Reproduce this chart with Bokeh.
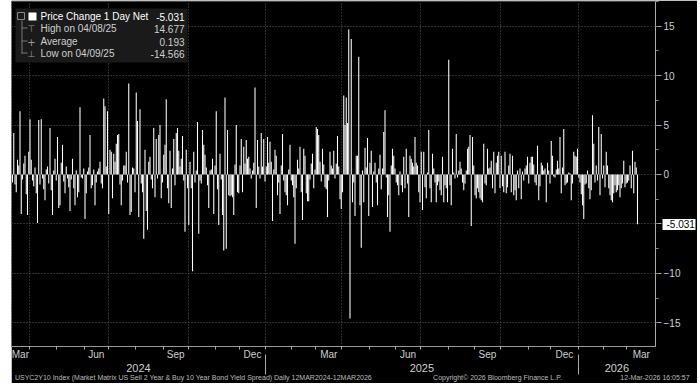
import pandas as pd
from pandas.tseries.holiday import USFederalHolidayCalendar
from pandas.tseries.offsets import CustomBusinessDay
from bokeh.plotting import figure
from bokeh.models import (ColumnDataSource, FixedTicker, SingleIntervalTicker, Range1d,
                          Label, BoxAnnotation, Spacer, LinearAxis)
from bokeh.layouts import row
from bokeh.embed import file_html
from bokeh.resources import INLINE

# ---------------- data ----------------
START_DATE = "2024-03-12"
END_DATE = "2026-03-12"
SERIES_NAME = "Price Change 1 Day Net"
LAST_VALUE = "-5.031"
HIGH_LABEL, HIGH_VALUE = "High on 04/08/25", "14.677"
AVG_LABEL, AVG_VALUE = "Average", "0.193"
LOW_LABEL, LOW_VALUE = "Low on 04/09/25", "-14.566"
Y_TICKS = [-15, -10, -5, 0, 5, 10, 15]
MONTH_LABELS = {3: "Mar", 6: "Jun", 9: "Sep", 12: "Dec"}
FOOTER_TEXTS = [
    "USYC2Y10 Index (Market Matrix US Sell 2 Year & Buy 10 Year Bond Yield Spread) "
    "Daily 12MAR2024-12MAR2026",
    "Copyright\u00a9 2026 Bloomberg Finance L.P.",
    "12-Mar-2026 16:05:57",
]

chg_2024a = [-0.8, 4.2, -1.0, -1.8, 1.5, 0.9, 6.4, -4.0, -0.5, 1.1,
             1.9, -2.0, -4.1, 2.3, 5.6, 1.5, -0.6, -1.2, 0.7, -1.9,
             -4.9, 5.5, -1.0, 5.6, -0.4, -1.5, -2.6, 0.5, 0.8, -0.9,
             4.7, -1.6, -4.1, 0.4, 1.6, -0.6, 3.8, -3.4, -3.1, 1.2,
             3.0, -0.7, -1.9, 0.8, -0.4, -1.3, -3.7, -0.5, 1.6, -1.4,
             -3.1, 0.4, -2.3, -1.8, 6.8, -0.3, -0.4, 0.6, -4.5, -1.9,
             0.3, 0.7, 4.0, -1.4, -1.1, 0.5, -3.1, -0.8, 0.3, 0.6,
             1.3, -0.9, -1.4, 7.7, 6.9, 0.8, 6.4, -4.0, 2.5, 2.3,
             -2.4, 2.1, 1.3]
chg_2024b = [3.1, 4.0, 4.1, -1.0, -3.1, -0.6, 0.9, 0.9, 2.3, -0.8,
             9.2, -4.1, -3.8, 0.7, 0.6, -1.8, 8.3, 5.4, -4.3, 6.6,
             -0.9, -1.8, -6.5, 2.5, -3.7, -5.6, 1.3, 1.8, -0.5, -1.4,
             4.7, -2.3, 3.6, -0.4, 4.0, 5.0, -2.4, -0.8, 2.0, 3.0,
             7.6, -1.4, -2.9, 2.4, -3.4, 0.6, 3.6, -1.1, 4.2, 4.7,
             2.4, 0.8, 1.6, 3.9, -0.6, -5.8, 2.5, -1.4, -5.1, 1.3,
             -1.4, -9.8, 2.3, -0.8, 0.4, 5.3, -6.0, -0.6, -0.9, 4.5,
             3.0, 2.0, 0.7, -1.1, -3.4, 0.4, 0.5, 1.6, -4.0, 0.9,
             6.4, -1.5, -5.1, 2.1, -0.5]
chg_2024c = [-4.1, -7.7, 7.8, -7.5, 4.5, -2.1, -2.2, -2.1, -2.3, -4.1,
             1.0, 5.0, -1.8, -1.9, 0.9, 3.6, -1.8, 2.8, 1.1, 3.5,
             1.6, 1.8, 0.6, -0.4, 0.4, 1.2, 8.8, -3.4, 3.5, 0.8,
             -0.4, 4.2, 0.8, 3.6, -0.7, 0.8, 3.8, 1.2, 3.3, 1.3,
             -4.7, 0.5, 2.5, 1.9, -2.1, -0.8, -4.0, 0.9, 4.1, -0.6,
             -1.8, -2.1, -3.1, 0.5, 3.0, -0.6, -1.1, -2.3, -7.0, -1.4,
             1.5, 0.6, 2.8, -1.8, -4.6, 2.6, 1.9, -1.9, -2.7, -2.7,
             -0.5, 1.1, 2.1, -1.4, 0.5, 4.8, 4.6, 4.0, 1.3, -0.7,
             2.6, 1.0]
chg_2025a = [-1.3, -1.5, -4.3, -0.6, 2.3, 0.9, 0.6, 2.4, -0.4, 1.1,
             3.9, 0.8, -2.5, -3.5, -1.8, 8.0, 5.0, 7.8, 5.2, 14.677,
             -14.566, 13.7, -2.8, -0.8, -4.2, 1.9, 1.9, 11.9, -3.1, -7.4,
             0.4, -2.8, 2.7, 0.7, 3.7, -4.2, 1.2, 2.4, -3.3, 0.3,
             1.2, -0.8, -3.1, 0.6, 2.0, -1.5, 0.6, 4.3, 6.5, -0.3,
             -4.3, -2.1, -5.8, 0.9, 2.6, 1.9, 0.6, -0.8, -1.1, -2.1,
             0.3, -1.1, -1.8, 1.8, -1.4, 2.6, -0.9, -4.3, 1.9, 1.6,
             1.2, 0.8, 3.8, 1.2, 0.9, -1.8, -2.8, 2.3, -3.6, 2.3,
             -1.3, -2.4, 0.2]
chg_2025b = [4.5, -1.4, -2.8, 2.1, 0.6, -0.8, -2.8, -1.1, -0.7, -1.6,
             -2.1, 1.8, -2.8, -1.1, -1.4, -2.8, 11.6, -1.1, -3.1, 2.6,
             0.2, -0.4, 4.1, -0.3, 0.4, 1.3, 0.6, -0.8, -1.6, -0.9,
             0.4, 2.6, 2.8, 4.0, -5.2, 3.8, 0.9, -2.1, -2.4, -1.4,
             -1.8, -2.4, -2.6, -2.8, 3.1, -0.9, -1.1, 2.6, 0.6, 0.7,
             1.4, -1.4, 2.3, -1.9, 1.2, 1.9, 2.3, -1.4, 1.9, -1.2,
             -1.8, 2.3, -1.9, -1.3, 0.9, 2.1, -1.8, 1.9, -2.1, -1.6,
             -2.6, 0.4, -1.4, 0.6, -2.5, 0.3, -0.6, 0.6, 0.9, 1.8,
             -0.9, 1.2, 1.8]
chg_2025c = [1.8, 1.0, -0.8, -1.1, 2.9, -2.6, -1.2, 1.2, 0.9, 0.4,
             0.6, -2.8, 1.2, 0.4, -0.9, 3.4, 1.9, -0.2, -0.3, 0.5,
             1.4, 0.6, 3.8, -1.9, 0.7, 4.6, -1.1, -0.9, -0.8, 0.2,
             0.1, -2.6, -0.9, 2.3, 1.9, 1.8, 2.6, -0.3, -0.8, -2.0,
             -3.1, -4.5, -1.0, -0.9, 0.4, -1.4, -2.5, -1.6, 6.0, 3.1,
             -0.8, 0.9, -0.6, 4.8, -2.1, 4.1, -0.4, 0.9, -1.3, 2.3,
             0.9, -1.4, -2.1, -2.6, -2.8, -1.9, -1.1, -1.8, -1.6, -1.1,
             -2.3, -1.4, -0.9, 1.4, -1.3, -0.9, -0.8, -0.6, 0.9, -1.4,
             2.4, -1.9, 1.3, 0.7, -5.031]

daily_change = chg_2024a + chg_2024b + chg_2024c + chg_2025a + chg_2025b + chg_2025c

dates = pd.date_range(START_DATE, END_DATE,
                      freq=CustomBusinessDay(calendar=USFederalHolidayCalendar()))
n = min(len(dates), len(daily_change))
dates = dates[-n:]
vals = daily_change[-n:]
idx = list(range(n))

# ---------------- geometry ----------------
PX_PER_BAR = 1.25
FRAME_W, FRAME_H = 644, 345
X_START = -0.8
X_END = X_START + FRAME_W / PX_PER_BAR
Y_TOP, Y_BOT = 17.5, -17.4


def page_to_x(px):
    return X_START + (px - 11) / PX_PER_BAR


month_start = [0] + [i for i in range(1, n) if dates[i].month != dates[i - 1].month]
bounds = [i - 0.5 for i in month_start[1:]]
edges = [X_START] + bounds + [X_END]
centers, overrides = [], {}
for k, i in enumerate(month_start):
    m = dates[i].month
    if m in MONTH_LABELS:
        c = round((edges[k] + edges[k + 1]) / 2, 1)
        centers.append(c)
        overrides[c] = MONTH_LABELS[m]
quarter_bounds = [i - 0.5 for i in month_start[1:] if dates[i].month in (1, 4, 7, 10)]
year_bounds = [i - 0.5 for i in month_start[1:] if dates[i].month == 1]
year_edges = [X_START] + year_bounds + [X_END]
year_centers = [round((year_edges[k] + year_edges[k + 1]) / 2, 1)
                for k in range(len(year_edges) - 1)]
year_overrides = {c: str(dates[0].year + k) for k, c in enumerate(year_centers)}

FONT = "Liberation Sans"
GREY_TXT = "#cfcfcf"

p = figure(frame_width=FRAME_W, frame_height=FRAME_H, x_range=Range1d(X_START, X_END),
           y_range=Range1d(Y_BOT, Y_TOP), output_backend="svg", toolbar_location=None,
           y_axis_location="right", background_fill_color="black",
           border_fill_color="black", min_border_left=0, min_border_right=39,
           min_border_top=1, min_border_bottom=37)
p.outline_line_color = "#555555"
p.outline_line_dash = "1 2"

src = ColumnDataSource(dict(x=idx, v=vals))
p.vbar(x="x", top="v", bottom=0, width=0.85, source=src,
       fill_color="white", line_color=None)

# month axis
xa = p.xaxis[0]
xa.ticker = FixedTicker(ticks=centers, minor_ticks=bounds)
xa.major_label_overrides = overrides
xa.major_tick_out = 0
xa.major_tick_in = 0
xa.major_tick_line_color = None
xa.minor_tick_out = 3
xa.minor_tick_in = 0
xa.minor_tick_line_color = "#aaaaaa"
xa.axis_line_color = "#999999"
xa.major_label_text_color = GREY_TXT
xa.major_label_text_font = FONT
xa.major_label_text_font_size = "10px"
xa.major_label_standoff = -1

# year axis (labels at year centres, separators as long minor ticks)
yr = LinearAxis(ticker=FixedTicker(ticks=year_centers, minor_ticks=year_bounds),
                major_label_overrides=year_overrides, axis_line_color=None,
                major_tick_line_color=None, major_tick_in=0, major_tick_out=0,
                minor_tick_in=8, minor_tick_out=12, minor_tick_line_color="#aaaaaa",
                major_label_standoff=-11, major_label_text_color=GREY_TXT,
                major_label_text_font=FONT, major_label_text_font_size="11px")
p.add_layout(yr, "below")

# source / copyright / timestamp line
foot_pos = [round(page_to_x(px), 2) for px in (193, 497, 654.5)]
ft = LinearAxis(ticker=FixedTicker(ticks=foot_pos, minor_ticks=[]),
                major_label_overrides=dict(zip(foot_pos, FOOTER_TEXTS)),
                axis_line_color=None, major_tick_line_color=None, major_tick_in=0,
                major_tick_out=0, minor_tick_line_color=None, major_label_standoff=-1,
                major_label_text_color="#bbbbbb", major_label_text_font=FONT,
                major_label_text_font_size="7px")
p.add_layout(ft, "below")

# value axis
ya = p.yaxis[0]
ya.ticker = SingleIntervalTicker(interval=5, num_minor_ticks=2)
ya.major_tick_out = 6
ya.major_tick_in = 0
ya.minor_tick_out = 3
ya.minor_tick_in = 0
ya.major_tick_line_color = "#aaaaaa"
ya.minor_tick_line_color = "#888888"
ya.axis_line_color = "#aaaaaa"
ya.major_label_text_color = GREY_TXT
ya.major_label_text_font = FONT
ya.major_label_text_font_size = "10px"
ya.major_label_standoff = 2

# last-value tag: an extra right axis with one tick drawn as a white box
last = float(LAST_VALUE)
tag = LinearAxis(ticker=FixedTicker(ticks=[last], minor_ticks=[]),
                 major_label_overrides={last: LAST_VALUE},
                 axis_line_color=None, major_tick_in=21, major_tick_out=12,
                 major_tick_line_color="white", major_tick_line_width=11,
                 major_tick_line_cap="butt", minor_tick_line_color=None,
                 major_label_standoff=-29, major_label_text_color="black",
                 major_label_text_font=FONT, major_label_text_font_size="10px")
p.add_layout(tag, "right")

p.xgrid.ticker = FixedTicker(ticks=quarter_bounds)
p.ygrid.ticker = FixedTicker(ticks=Y_TICKS)
for g in (p.xgrid[0], p.ygrid[0]):
    g.grid_line_color = "#5a5a5a"
    g.grid_line_dash = "1 2"
    g.grid_line_width = 1


def lab(text, x, y, size="10px", color=GREY_TXT, align="left", font=FONT):
    p.add_layout(Label(x=x, y=y, x_units="screen", y_units="screen", text=text,
                       text_font=font, text_font_size=size, text_color=color,
                       text_align=align, text_baseline="middle"))


def box(l, r, b, t, color, line=None):
    p.add_layout(BoxAnnotation(left=l, right=r, bottom=b, top=t, left_units="screen",
                               right_units="screen", bottom_units="screen",
                               top_units="screen", fill_color=color,
                               fill_alpha=1 if color else 0, line_color=line,
                               line_alpha=1 if line else 0))


# legend panel
box(4, 176, 284, 338, "#1a1a1a")
box(6, 13, 327, 334, None, line="#888888")
box(17, 25, 326, 334, "white")
box(10, 11, 293, 326, "#777777")
for sy in (318, 305, 293):
    box(10, 16, sy, sy + 1, "#777777")
lab("\u22a4", 20, 318, size="9px", color="#999999", align="center", font="DejaVu Sans")
lab("+", 20, 305, size="10px", color="#999999", align="center", font="DejaVu Sans")
lab("\u22a5", 20, 293, size="9px", color="#999999", align="center", font="DejaVu Sans")
rows = [(SERIES_NAME, LAST_VALUE, 330, "white"), (HIGH_LABEL, HIGH_VALUE, 318, GREY_TXT),
        (AVG_LABEL, AVG_VALUE, 305, GREY_TXT), (LOW_LABEL, LOW_VALUE, 293, GREY_TXT)]
for name, val, sy, col in rows:
    lab(name, 29, sy, color=col)
    lab(val, 173, sy, color=col, align="right")

layout = row(Spacer(width=11, height=383), p, spacing=0)
open("out.html", "w").write(file_html(layout, INLINE))
